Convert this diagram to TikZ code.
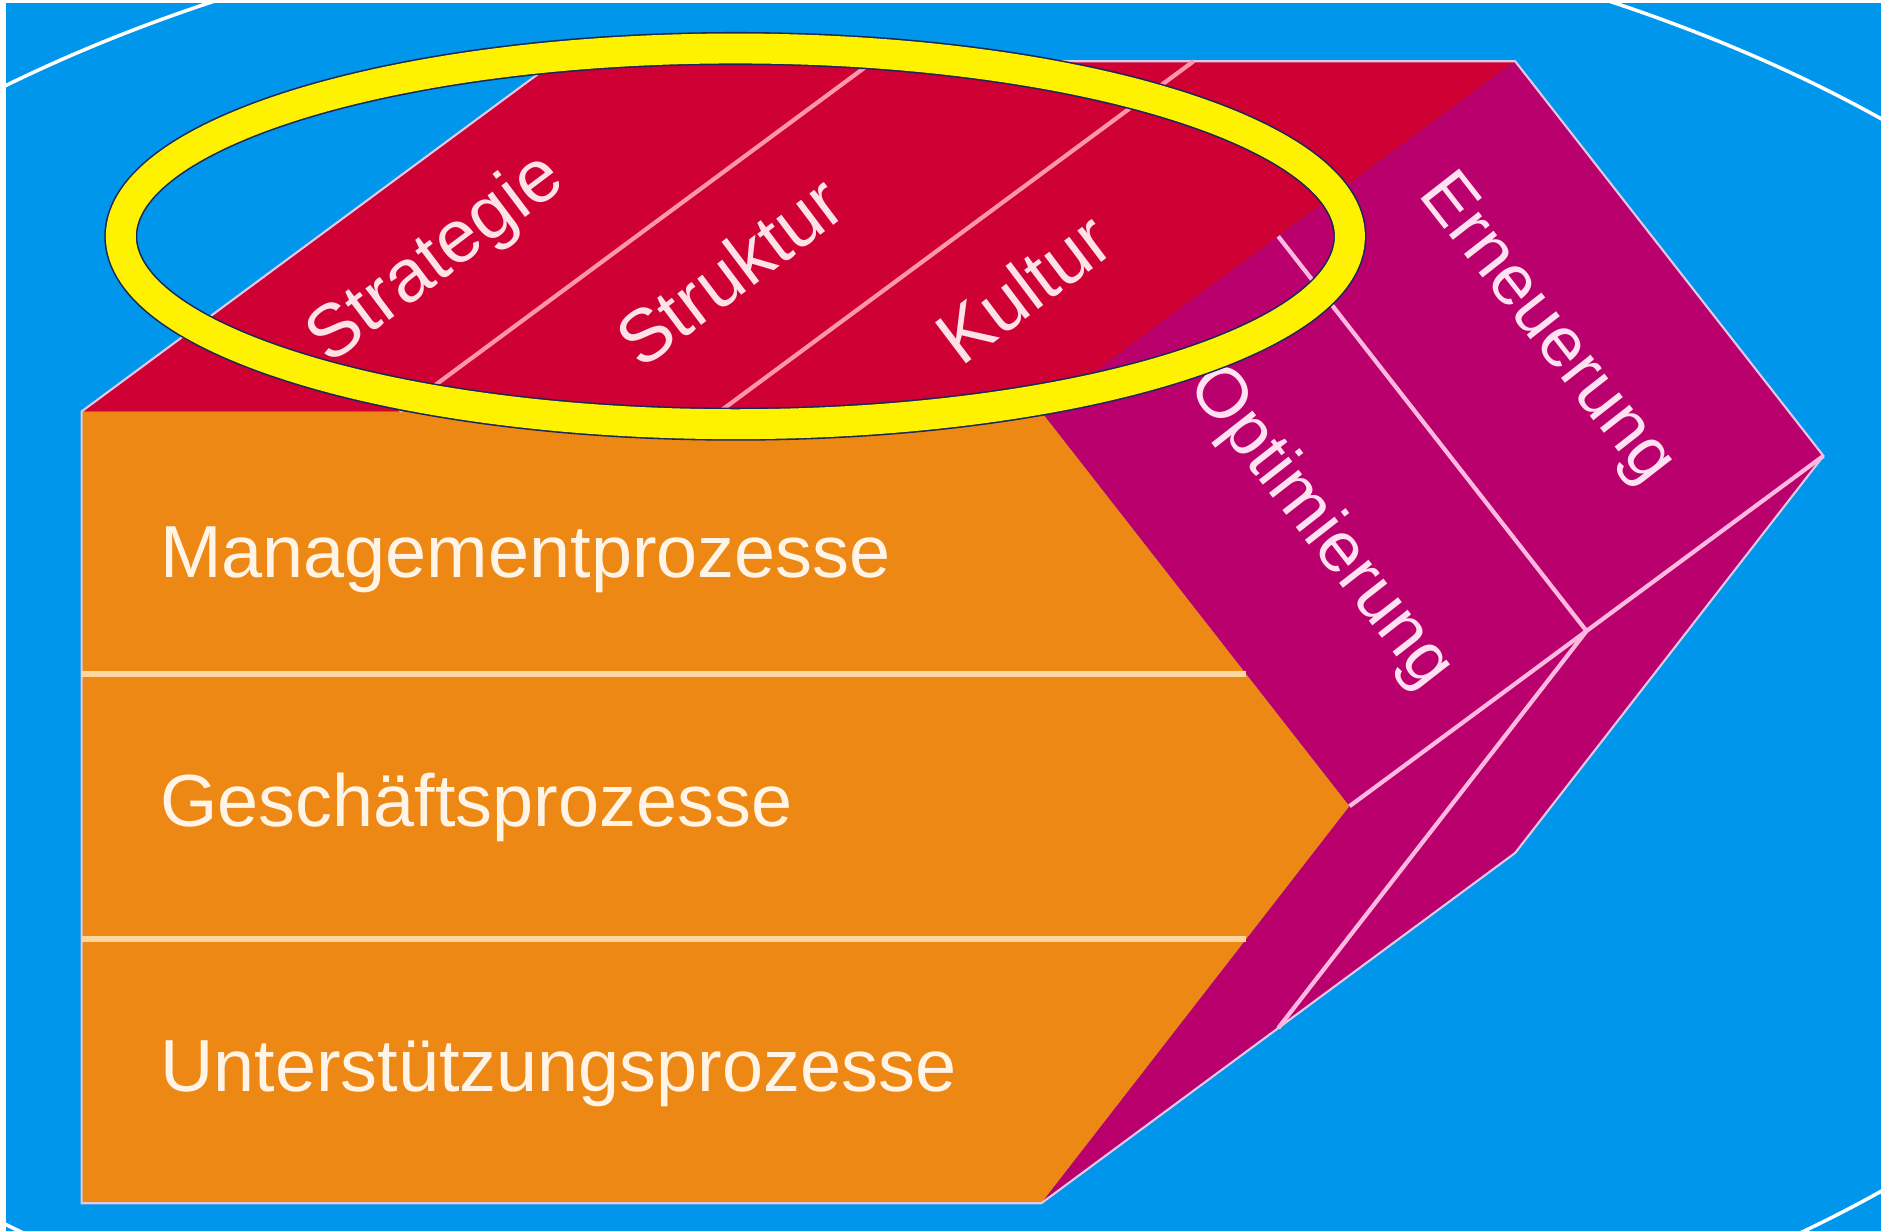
\documentclass[tikz,border=0pt]{standalone}
\usepackage{fontspec}
\setmainfont{Liberation Sans}
\definecolor{bgblue}{RGB}{0,150,235}
\definecolor{orng}{RGB}{238,136,20}
\definecolor{redf}{RGB}{206,0,52}
\definecolor{magf}{RGB}{186,0,108}
\definecolor{sepor}{RGB}{255,214,160}
\definecolor{sepred}{RGB}{255,150,170}
\definecolor{sepmag}{RGB}{255,185,225}
\definecolor{outl}{RGB}{225,200,230}
\definecolor{navy}{RGB}{25,40,90}
\definecolor{txtor}{RGB}{255,244,230}
\definecolor{txtred}{RGB}{255,225,232}
\definecolor{txtmag}{RGB}{255,225,242}
\tikzset{
  orsep/.style={draw=sepor, line width=1.7pt},
  redsep/.style={draw=sepred, line width=1.2pt},
  magsep/.style={draw=sepmag, line width=1.2pt},
  rowtext/.style={anchor=base west, inner sep=0pt, text=txtor, font=\fontsize{21}{24}\selectfont},
  toptext/.style={inner sep=0pt, text=txtred, rotate=37, font=\fontsize{21.2}{24}\selectfont},
  sidetext/.style={inner sep=0pt, text=txtmag, rotate=-52, font=\fontsize{20.2}{24}\selectfont},
}
\begin{document}
\begin{tikzpicture}[x=0.012cm,y=0.012cm]
\useasboundingbox (0,0) rectangle (1568,-1026);
\fill[white] (0,0) rectangle (1568,-1026);
\fill[bgblue] (5,-2.5) rectangle (1568,-1026);
\begin{scope}
\clip (5,-2.5) rectangle (1568,-1026);
\draw[white, line width=1pt] (760,-546) ellipse [x radius=13.68cm, y radius=7.596cm];
\end{scope}
% corners of the prism
\coordinate (A) at (68,-343);
\coordinate (B) at (868,-343);
\coordinate (C) at (1125,-672);
\coordinate (D) at (868,-1003);
\coordinate (E) at (68,-1003);
\coordinate (A2) at (463,-51);
\coordinate (B2) at (1263,-51);
\coordinate (C2) at (1520,-380);
\coordinate (D2) at (1263,-711);
% faces
\fill[orng] (A)--(B)--(C)--(D)--(E)--cycle;
\fill[redf] (A)--(B)--(B2)--(A2)--cycle;
\fill[magf] (B)--(B2)--(C2)--(C)--cycle;
\fill[magf] (C)--(C2)--(D2)--(D)--cycle;
\draw[outl, line width=0.6pt, line join=miter] (E)--(A)--(A2)--(B2)--(C2)--(D2)--(D)--cycle;
% orange separators
\draw[orsep] (68,-562) -- (1039,-562);
\draw[orsep] (68,-783) -- (1039,-783);
% top dividers
\draw[redsep] (333,-343) -- (728,-51);
\draw[redsep] (600,-343) -- (995,-51);
% side dividers
\coordinate (M1) at (1065.5,-197);
\coordinate (M2) at (1322.5,-526);
\coordinate (M3) at (1065.5,-857);
\draw[magsep] (M1) -- (M2);
\draw[magsep] (C) -- (C2);
\draw[magsep] (M2) -- (M3);
% texts
\node[rowtext] (t1) at (133,-481) {Managementprozesse};
\node[rowtext] (t2) at (133,-689) {Geschäftsprozesse};
\node[rowtext] (t3) at (133,-910) {Unterstützungsprozesse};
\node[toptext] (s1) at (364,-217) {Strategie};
\node[toptext] (s2) at (608,-226) {Struktur};
\node[toptext] (s3) at (853,-240) {Kultur};
\node[sidetext] (r1) at (1288,-275) {Erneuerung};
\node[sidetext] (r2) at (1100,-440) {Optimierung};
% highlight ring
\draw[navy, line width=9.4pt] (613,-197) ellipse [x radius=6.144cm, y radius=1.878cm];
\draw[yellow, line width=8.5pt] (613,-197) ellipse [x radius=6.144cm, y radius=1.878cm];
\end{tikzpicture}
\end{document}
